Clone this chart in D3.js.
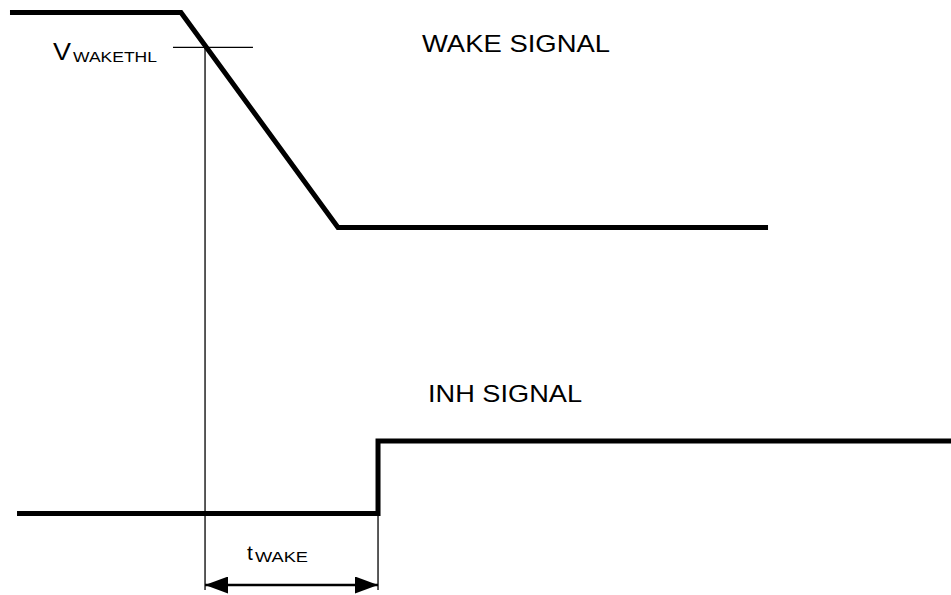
<!DOCTYPE html>
<html>
<head>
<meta charset="utf-8">
<script src="https://cdn.jsdelivr.net/npm/d3@7"></script>
<style>
  body { margin: 0; background: #fff; }
  text { font-family: Arial, "Liberation Sans", sans-serif; fill: #000; }
</style>
</head>
<body>
<div id="chart"></div>
<script>
// timing diagram: wake signal vs INH signal

// time in arbitrary units (0..100 across the page)
const wakeTimes = [1.05, 19.03, 35.54, 80.76];
const wakeLevels = [1, 1, 0, 0];
const inhTimes = [1.79, 39.75, 39.75, 100];
const inhLevels = [0, 0, 1, 1];

const thresholdLevel = 0.838;      // V_WAKETHL on wake signal
const thresholdSpan = [18.19, 26.6];
const tStart = 21.56;              // wake crosses threshold
const tEnd = 39.75;                // INH goes high

const labels = ["WAKE SIGNAL", "INH SIGNAL"];

const width = 951, height = 595;

const svg = d3.select("#chart")
  .append("svg")
  .attr("width", width)
  .attr("height", height);

let x = d3.scaleLinear().domain([0, 100]).range([0, width]);
let yWake = d3.scaleLinear().domain([0, 1]).range([227.5, 12.5]);
let yInh = d3.scaleLinear().domain([0, 1]).range([513.5, 441]);

const arrowY = 585;
const markBottom = 590;

// thin marker lines
svg.append("line")
  .attr("x1", x(thresholdSpan[0])).attr("x2", x(thresholdSpan[1]))
  .attr("y1", yWake(thresholdLevel)).attr("y2", yWake(thresholdLevel))
  .attr("stroke", "#000").attr("stroke-width", 1.3);

svg.append("line")
  .attr("x1", x(tStart)).attr("x2", x(tStart))
  .attr("y1", yWake(thresholdLevel)).attr("y2", markBottom)
  .attr("stroke", "#000").attr("stroke-width", 1.3);

svg.append("line")
  .attr("x1", x(tEnd)).attr("x2", x(tEnd))
  .attr("y1", yInh(0)).attr("y2", markBottom)
  .attr("stroke", "#000").attr("stroke-width", 1.3);

// signals
const wakeLine = d3.line()
  .x((d, i) => x(wakeTimes[i]))
  .y(d => yWake(d));
const inhLine = d3.line()
  .x((d, i) => x(inhTimes[i]))
  .y(d => yInh(d));

svg.append("path")
  .attr("d", wakeLine(wakeLevels))
  .attr("fill", "none").attr("stroke", "#000")
  .attr("stroke-width", 5).attr("stroke-linejoin", "miter");

svg.append("path")
  .attr("d", inhLine(inhLevels))
  .attr("fill", "none").attr("stroke", "#000")
  .attr("stroke-width", 5).attr("stroke-linejoin", "miter");

// t_WAKE double arrow
const defs = svg.append("defs");
["start", "end"].forEach(k => {
  defs.append("marker")
    .attr("id", "arr-" + k)
    .attr("viewBox", "0 0 23 17")
    .attr("refX", k == "start" ? 0 : 23).attr("refY", 8.5)
    .attr("markerUnits", "userSpaceOnUse")
    .attr("markerWidth", 23).attr("markerHeight", 17)
    .attr("orient", "0")
    .append("path")
    .attr("d", k == "start" ? "M0,8.5L23,0L23,17Z" : "M23,8.5L0,0L0,17Z")
    .attr("fill", "#000");
});

svg.append("line")
  .attr("x1", x(tStart)).attr("x2", x(tEnd))
  .attr("y1", arrowY).attr("y2", arrowY)
  .attr("stroke", "#000").attr("stroke-width", 2.5)
  .attr("marker-start", "url(#arr-start)")
  .attr("marker-end", "url(#arr-end)");

// text
svg.append("text").attr("x", 422).attr("y", 52)
  .attr("font-size", 24).attr("textLength", 188).attr("lengthAdjust", "spacingAndGlyphs")
  .text(labels[0]);
svg.append("text").attr("x", 428).attr("y", 402)
  .attr("font-size", 24).attr("textLength", 154).attr("lengthAdjust", "spacingAndGlyphs")
  .text(labels[1]);

svg.append("text").attr("x", 53).attr("y", 60)
  .attr("font-size", 24).attr("textLength", 18).attr("lengthAdjust", "spacingAndGlyphs")
  .text("V");
svg.append("text").attr("x", 73).attr("y", 62)
  .attr("font-size", 15).attr("textLength", 84).attr("lengthAdjust", "spacingAndGlyphs")
  .text("WAKETHL");

svg.append("text").attr("x", 247).attr("y", 560)
  .attr("font-size", 21)
  .text("t");
svg.append("text").attr("x", 255).attr("y", 562)
  .attr("font-size", 14).attr("textLength", 53).attr("lengthAdjust", "spacingAndGlyphs")
  .text("WAKE");
</script>
</body>
</html>
